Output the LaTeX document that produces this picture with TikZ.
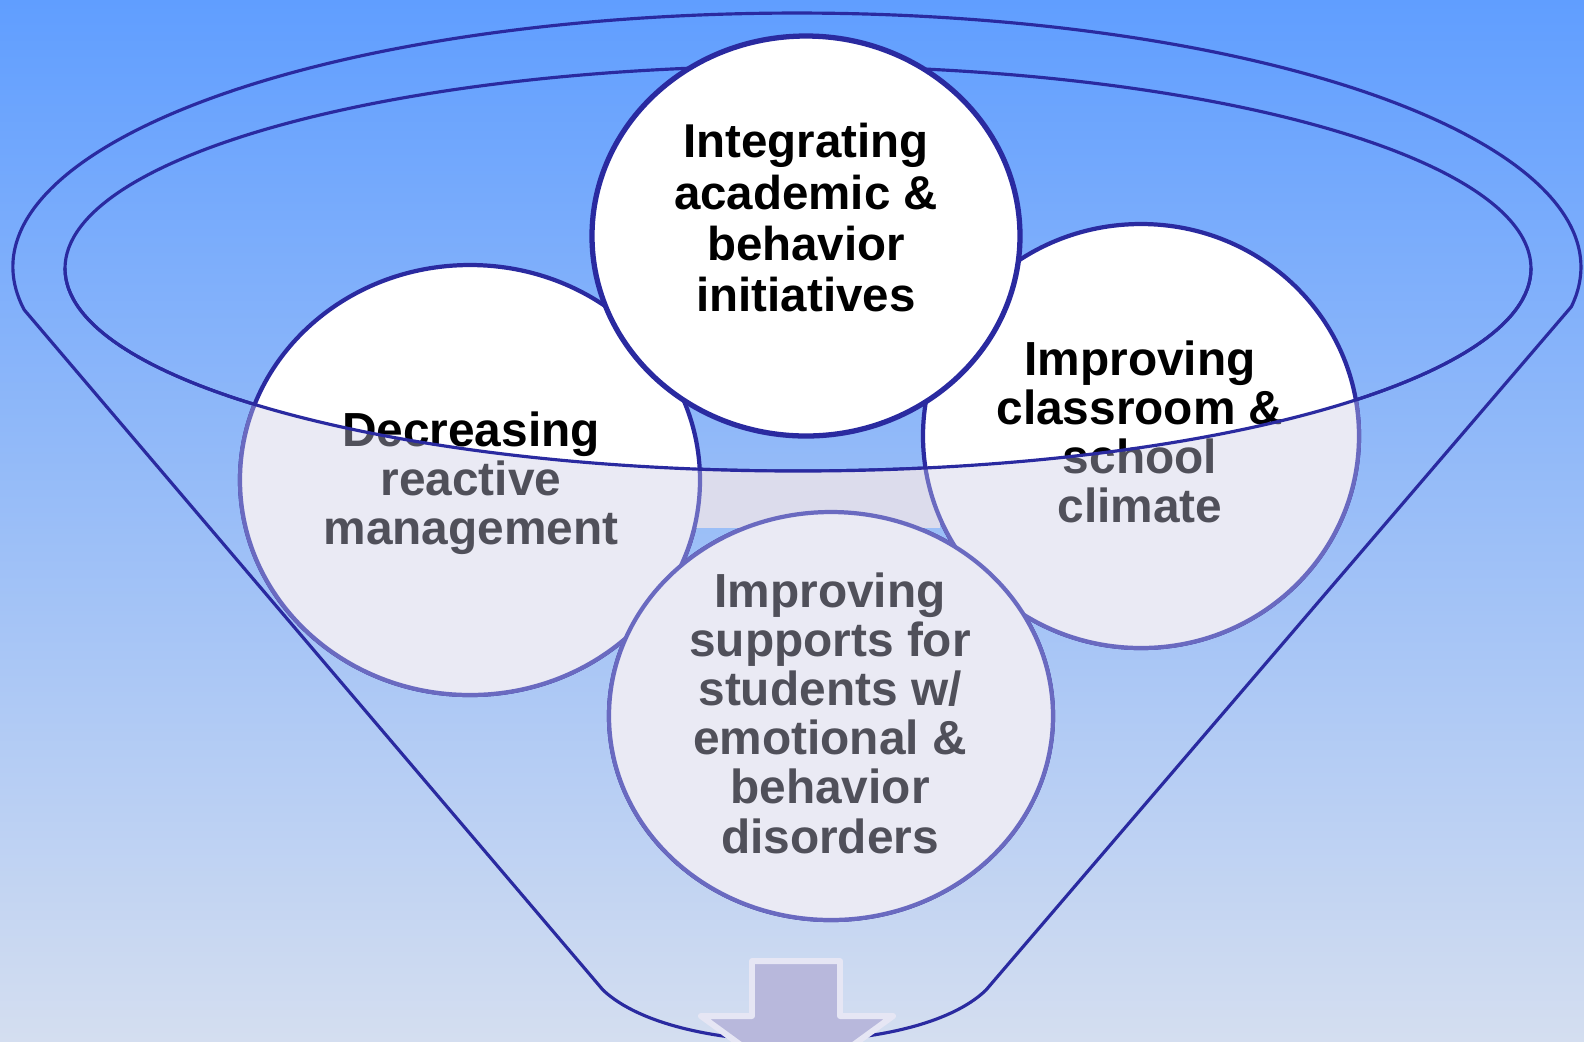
\documentclass[tikz,border=0pt]{standalone}
\usepackage{fontspec}
\setsansfont{Liberation Sans}
\usetikzlibrary{calc}

\definecolor{rim}{HTML}{2A2AA0}
\definecolor{skytop}{HTML}{609EFF}
\definecolor{skymid}{HTML}{86BBFA}
\definecolor{skybot}{HTML}{D4DEF0}
\definecolor{arrowfill}{HTML}{B8B8DC}
\definecolor{arrowrim}{HTML}{E6E6F4}
\definecolor{mist}{HTML}{DCDCEC}
% bubble colours, set again for the part in front of the funnel
\colorlet{ballfill}{white}
\colorlet{ballline}{rim}
\colorlet{balltext}{black}

\tikzset{
  ball/.style={fill=ballfill, draw=ballline, line width=1.2pt},
  balltxt/.style={align=center, text=balltext,
    font=\sffamily\bfseries\fontsize{13.6}{14}\selectfont},
  rimline/.style={draw=rim, line width=0.9pt},
}

\newcommand\drawballs{%
  \draw[ball] (L) ellipse [x radius=230, y radius=215];
  \draw[ball] (R) ellipse [x radius=218, y radius=212];
  \draw[ball, line width=1.5pt] (T) ellipse [x radius=214, y radius=200];
  \draw[ball] (B) ellipse [x radius=222, y radius=204];
  \node[balltxt, font=\sffamily\bfseries\fontsize{13.5}{14.6}\selectfont] (integ) at (806,218)
    {Integrating\\academic \&\\behavior\\initiatives};
  \node[balltxt] (reactive) at (471,483) {Decreasing\\reactive\\management};
  \node[balltxt] (climate) at (1140,432) {Improving\\classroom \&\\school\\climate};
  \node[balltxt] (supports) at (830,713)
    {Improving\\supports for\\students w/\\emotional \&\\behavior\\disorders};
}

\begin{document}
\begin{tikzpicture}[x=0.01cm, y=-0.01cm, line join=round, line cap=round]
  \fill[top color=skytop, middle color=skymid, bottom color=skybot] (0,0) rectangle (1584,1041);
  \useasboundingbox (0,0) rectangle (1584,1041);
  \coordinate (O) at (798,268.5);
  \coordinate (L) at (470,480);
  \coordinate (R) at (1141,436);
  \coordinate (T) at (806,236);
  \coordinate (B) at (831,716);

  % funnel
  \draw[rimline] (24.2,309.8) arc [start angle=170.3, end angle=369, x radius=784, y radius=254]
    -- (986,990) .. controls (950,1025) and (870,1041) .. (795,1041)
    .. controls (720,1041) and (640,1025) .. (603,990) -- cycle;
  \draw[rimline] (O) ellipse [x radius=733, y radius=202.5];

  % arrow out of the spout
  \draw[arrowrim, fill=arrowfill, line width=1.7pt] (752,961) -- (840,961) -- (840,1016)
    -- (893,1016) -- (797,1086) -- (701,1016) -- (752,1016) -- cycle;

  \drawballs

  % front of the funnel
  \begin{scope}
    \clip ($(O)+(733,0)$) arc [start angle=0, end angle=180, x radius=733, y radius=202.5]
      -- (0,1100) -- (1584,1100) -- cycle;
    \definecolor{ballfill}{HTML}{EAEAF4}
    \definecolor{ballline}{HTML}{6A6AC0}
    \definecolor{balltext}{HTML}{50505A}
    \fill[mist] (680,440) rectangle (940,528);
    \drawballs
  \end{scope}
  \draw[rimline] ($(O)+(733,0)$) arc [start angle=0, end angle=180, x radius=733, y radius=202.5];
\end{tikzpicture}
\end{document}
